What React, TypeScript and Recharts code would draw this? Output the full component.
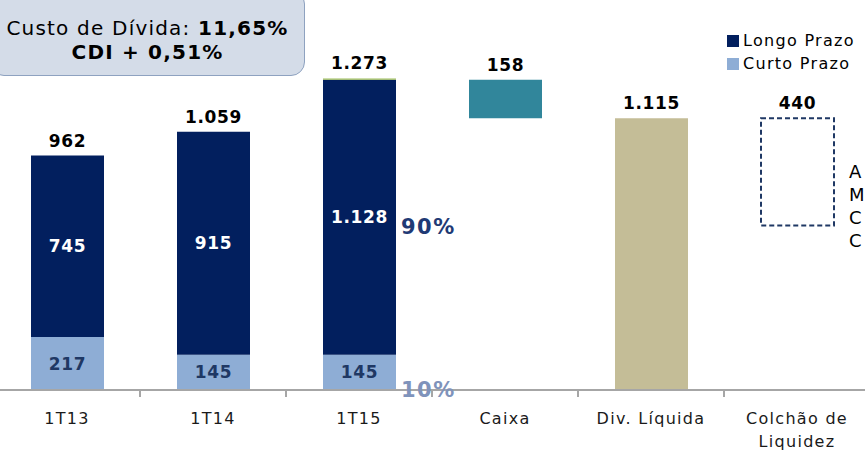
import { BarChart, Bar, XAxis, YAxis, LabelList } from 'recharts';

const categories = ['1T13', '1T14', '1T15', 'Caixa', 'Div. Líquida', 'Colchão de Liquidez'];
const curtoPrazo = [217, 145, 145, 0, 0, 0];
const longoPrazo = [745, 915, 1128, 0, 0, 0];
const outros = [0, 0, 5, 0, 0, 0];
const base = [0, 0, 0, 1115, 0, 675];
const caixa = [0, 0, 0, 158, 0, 0];
const divLiquida = [0, 0, 0, 0, 1115, 0];
const colchao = [0, 0, 0, 0, 0, 440];
const totals = [962, 1059, 1273, 158, 1115, 440];
const shareLongo = '90%';
const shareCurto = '10%';

const FONT = '"DejaVu Sans", Verdana, sans-serif';
const CHART_W = 876;
const BAND = CHART_W / categories.length;

const data = categories.map((name, i) => ({
  name,
  curto: curtoPrazo[i],
  longo: longoPrazo[i],
  outros: outros[i],
  base: base[i],
  caixa: caixa[i],
  div: divLiquida[i],
  colchao: colchao[i],
}));

const stackOrder = ['curto', 'longo', 'outros', 'caixa', 'div', 'colchao'];
const topKey = (i: number) => {
  const row: any = data[i];
  let key = '';
  stackOrder.forEach((k) => {
    if (row[k] > 0) key = k;
  });
  return key;
};

const fmt = (v: number) => v.toLocaleString('de-DE');
const lastPeriod = 2;

// the label value carries the category index
const idxOf = (entry: any) => categories.indexOf(entry?.payload?.name);

function totalLabel(key: string) {
  return (props: any) => {
    const { x, y, width, value } = props;
    const i = Number(value);
    if (!(i >= 0) || topKey(i) !== key) return null;
    return (
      <text x={Number(x) + Number(width) / 2} y={Number(y) - 9} textAnchor='middle' fontFamily={FONT} fontSize={17} letterSpacing={0.6} fontWeight='bold' fill='#000'>
        {fmt(totals[i])}
      </text>
    );
  };
}

function innerLabel(key: string, fill: string, share: string, shareFill: string, isBottom: boolean) {
  return (props: any) => {
    const { x, y, width, height, value } = props;
    const i = Number(value);
    if (!(i >= 0)) return null;
    const v = (data[i] as any)[key];
    if (!v) return null;
    const cx = Number(x) + Number(width) / 2;
    const cy = Number(y) + Number(height) / 2;
    return (
      <g>
        <text x={cx} y={cy + 6} textAnchor='middle' fontFamily={FONT} fontSize={17} letterSpacing={0.6} fontWeight='bold' fill={fill}>
          {fmt(v)}
        </text>
        {i === lastPeriod && (
          <text
            x={Number(x) + Number(width) + 5}
            y={isBottom ? Number(y) + Number(height) + 7 : cy + 17}
            fontFamily={FONT}
            fontSize={21}
            letterSpacing={1.5}
            fontWeight='bold'
            fill={shareFill}
          >
            {share}
          </text>
        )}
      </g>
    );
  };
}

function CategoryTick(props: any) {
  const { x, y, payload, index } = props;
  const words = String(payload.value).split(' ');
  const lines = payload.value.length > 12 ? [words.slice(0, -1).join(' '), words[words.length - 1]] : [payload.value];
  return (
    <g>
      {index > 0 && <line x1={x - BAND / 2} x2={x - BAND / 2} y1={y - 8} y2={y - 1} stroke='#A6A6A6' strokeWidth={2} />}
      <text x={x} y={y + 26} textAnchor='middle' fontFamily={FONT} fontSize={16} letterSpacing={1.3} fill='#1a1a1a'>
        {lines.map((l: string, i: number) => (
          <tspan key={i} x={x} dy={i === 0 ? 0 : 23}>
            {l}
          </tspan>
        ))}
      </text>
    </g>
  );
}

const legendItems = [
  { label: 'Longo Prazo', color: '#021F5E' },
  { label: 'Curto Prazo', color: '#8EADD5' },
];

export default function App() {
  return (
    <div style={{ position: 'absolute', left: 0, top: 0, width: 865, height: 453, overflow: 'hidden', background: '#fff' }}>
      <div style={{ position: 'absolute', left: -6, top: 0 }}>
        <BarChart width={CHART_W} height={453} data={data} margin={{ top: 0, right: 0, left: 0, bottom: 0 }} barSize={73}>
          <YAxis hide domain={[0, 1600]} />
          <XAxis dataKey='name' height={63} interval={0} axisLine={{ stroke: '#A6A6A6', strokeWidth: 2 }} tickLine={false} tick={<CategoryTick />} />
          <Bar dataKey='curto' stackId='a' fill='#8EADD5' isAnimationActive={false}>
            <LabelList valueAccessor={idxOf} content={innerLabel('curto', '#1F3864', shareCurto, '#7F93BB', true)} />
          </Bar>
          <Bar dataKey='longo' stackId='a' fill='#021F5E' isAnimationActive={false}>
            <LabelList valueAccessor={idxOf} content={innerLabel('longo', '#fff', shareLongo, '#1F3A75', false)} />
            <LabelList valueAccessor={idxOf} content={totalLabel('longo')} />
          </Bar>
          <Bar dataKey='outros' stackId='a' fill='#9BBB59' isAnimationActive={false}>
            <LabelList valueAccessor={idxOf} content={totalLabel('outros')} />
          </Bar>
          <Bar dataKey='base' stackId='a' fill='transparent' isAnimationActive={false} />
          <Bar dataKey='caixa' stackId='a' fill='#31869B' isAnimationActive={false}>
            <LabelList valueAccessor={idxOf} content={totalLabel('caixa')} />
          </Bar>
          <Bar dataKey='div' stackId='a' fill='#C4BD97' isAnimationActive={false}>
            <LabelList valueAccessor={idxOf} content={totalLabel('div')} />
          </Bar>
          <Bar dataKey='colchao' stackId='a' fill='none' stroke='#1F3864' strokeWidth={2} strokeDasharray='5 3' isAnimationActive={false}>
            <LabelList valueAccessor={idxOf} content={totalLabel('colchao')} />
          </Bar>
        </BarChart>
      </div>
      <div style={{ position: 'absolute', left: 727, top: 29, fontFamily: FONT, fontSize: 16, letterSpacing: 1.3, color: '#000' }}>
        {legendItems.map((it) => (
          <div key={it.label} style={{ display: 'flex', alignItems: 'center', height: 23 }}>
            <div style={{ width: 12, height: 12, background: it.color, marginRight: 4 }} />
            <span>{it.label}</span>
          </div>
        ))}
      </div>
      <div
        style={{
          position: 'absolute',
          left: -10,
          top: -10,
          width: 315,
          height: 86,
          boxSizing: 'border-box',
          borderRadius: 14,
          background: '#D4DCE8',
          border: '1.5px solid #8EA2C0',
          fontFamily: FONT,
          fontSize: 20,
          letterSpacing: 1.2,
          lineHeight: '24px',
          textAlign: 'center',
          paddingTop: 25,
          color: '#000',
        }}
      >
        <div>
          Custo de Dívida: <b>11,65%</b>
        </div>
        <div>
          <b>CDI + 0,51%</b>
        </div>
      </div>
      <div style={{ position: 'absolute', left: 849, top: 160, fontFamily: FONT, fontSize: 18, lineHeight: '23px', color: '#000' }}>
        <div>A</div>
        <div>M</div>
        <div>C</div>
        <div>C</div>
      </div>
    </div>
  );
}
